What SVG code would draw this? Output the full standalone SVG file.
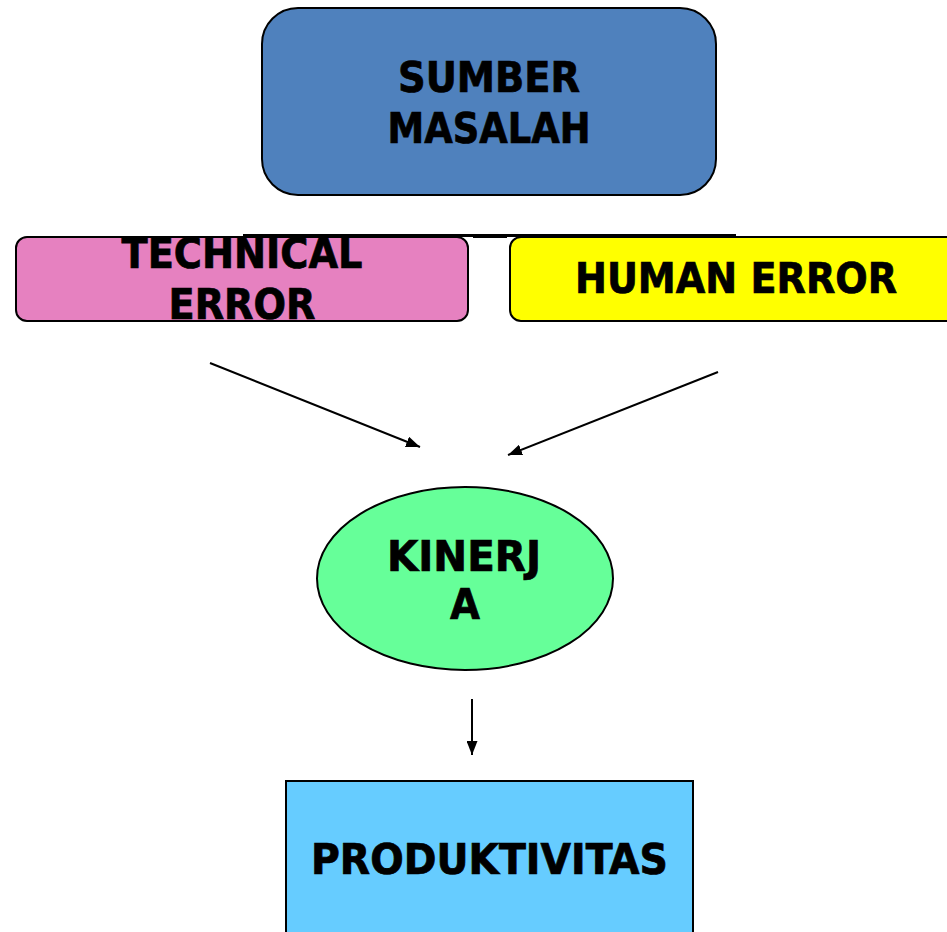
<svg xmlns="http://www.w3.org/2000/svg" width="947" height="932" viewBox="0 0 947 932">
  <style>
    .lbl { font-family: "DejaVu Sans Condensed", "DejaVu Sans", sans-serif; font-weight: bold; font-size: 43px; fill: #000; stroke: #000; stroke-width: 0.7; text-anchor: middle; }
    .box { stroke: #000; stroke-width: 2; }
    .conn { stroke: #000; stroke-width: 2; fill: none; }
  </style>
  <defs>
    <marker id="arrow" viewBox="0 0 14 11" refX="14" refY="5.5" markerWidth="14" markerHeight="11" markerUnits="userSpaceOnUse" orient="auto">
      <path d="M0,0 L14,5.5 L0,11 Z" fill="#000"/>
    </marker>
  </defs>
  <rect width="947" height="932" fill="#fff"/>

  <g id="sumber-masalah">
    <rect class="box" x="262" y="8" width="454" height="187" rx="36" fill="#4F81BD"/>
    <text class="lbl" x="489" y="92" textLength="182" lengthAdjust="spacingAndGlyphs">SUMBER</text>
    <text class="lbl" x="489" y="143" textLength="203" lengthAdjust="spacingAndGlyphs">MASALAH</text>
  </g>

  <g id="technical-error">
    <rect class="box" x="16" y="237" width="452" height="84" rx="11" fill="#E681C0"/>
    <text class="lbl" x="242" y="268" textLength="241" lengthAdjust="spacingAndGlyphs">TECHNICAL</text>
    <text class="lbl" x="242" y="319" textLength="147" lengthAdjust="spacingAndGlyphs">ERROR</text>
  </g>

  <g id="human-error">
    <rect class="box" x="510" y="237" width="460" height="84" rx="11" fill="#FFFF00"/>
    <text class="lbl" x="736" y="293" textLength="322" lengthAdjust="spacingAndGlyphs">HUMAN ERROR</text>
  </g>

  <g id="kinerja">
    <ellipse class="box" cx="465" cy="578.5" rx="148" ry="91.5" fill="#66FF99"/>
    <text class="lbl" x="464" y="571" textLength="154" lengthAdjust="spacingAndGlyphs">KINERJ</text>
    <text class="lbl" x="465" y="619">A</text>
  </g>

  <g id="produktivitas">
    <rect class="box" x="286" y="781" width="407" height="170" fill="#66CCFF"/>
    <text class="lbl" x="489.5" y="874" textLength="357" lengthAdjust="spacingAndGlyphs">PRODUKTIVITAS</text>
  </g>

  <g id="connectors">
    <line x1="243" y1="235.5" x2="736" y2="235.5" stroke="#000" stroke-width="3"/>
    <line x1="473" y1="236" x2="507" y2="236" stroke="#000" stroke-width="4"/>
    <line class="conn" x1="210" y1="363" x2="420" y2="447" marker-end="url(#arrow)"/>
    <line class="conn" x1="718" y1="372" x2="508" y2="455" marker-end="url(#arrow)"/>
    <line class="conn" x1="472" y1="699" x2="472" y2="755" marker-end="url(#arrow)"/>
  </g>
</svg>
